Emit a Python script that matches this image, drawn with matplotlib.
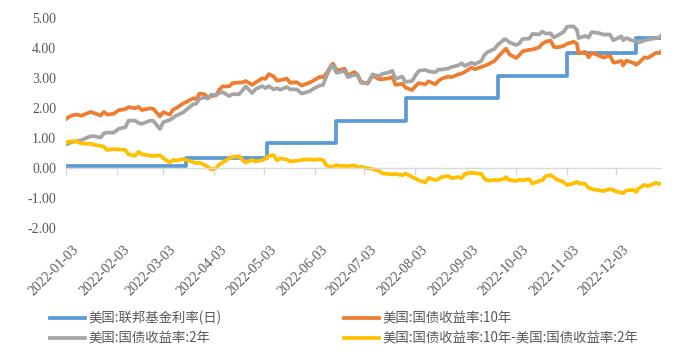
import pandas as pd
import matplotlib
matplotlib.use("Agg")
import matplotlib.pyplot as plt
import matplotlib.dates as mdates
from matplotlib.ticker import FormatStrFormatter
from matplotlib.transforms import ScaledTranslation

# --- data ---
fed_dates = ["2022-01-03", "2022-03-17", "2022-05-05", "2022-06-16", "2022-07-28",
             "2022-09-22", "2022-11-03", "2022-12-15", "2022-12-30"]
fed_rate = [0.08, 0.33, 0.83, 1.58, 2.33, 3.08, 3.83, 4.33, 4.33]

yield_dates = [
    "2022-01-03", "2022-01-05", "2022-01-07", "2022-01-10", "2022-01-12", "2022-01-14",
    "2022-01-18", "2022-01-20", "2022-01-24", "2022-01-26", "2022-01-28", "2022-02-01",
    "2022-02-04", "2022-02-08", "2022-02-10", "2022-02-14", "2022-02-16", "2022-02-18",
    "2022-02-23", "2022-02-25", "2022-03-01", "2022-03-03", "2022-03-07", "2022-03-09",
    "2022-03-11", "2022-03-15", "2022-03-17", "2022-03-21", "2022-03-23", "2022-03-25",
    "2022-03-28", "2022-03-30", "2022-04-01", "2022-04-04", "2022-04-06", "2022-04-08",
    "2022-04-12", "2022-04-14", "2022-04-18", "2022-04-20", "2022-04-22", "2022-04-26",
    "2022-04-28", "2022-05-02", "2022-05-04", "2022-05-06", "2022-05-09", "2022-05-11",
    "2022-05-13", "2022-05-17", "2022-05-19", "2022-05-23", "2022-05-26", "2022-05-31",
    "2022-06-02", "2022-06-06", "2022-06-08", "2022-06-10", "2022-06-13", "2022-06-14",
    "2022-06-16", "2022-06-17", "2022-06-21", "2022-06-23", "2022-06-27", "2022-06-29",
    "2022-07-01", "2022-07-05", "2022-07-07", "2022-07-08", "2022-07-12", "2022-07-14",
    "2022-07-18", "2022-07-20", "2022-07-22", "2022-07-26", "2022-07-28", "2022-08-01",
    "2022-08-03", "2022-08-05", "2022-08-09", "2022-08-11", "2022-08-15", "2022-08-17",
    "2022-08-19", "2022-08-23", "2022-08-25", "2022-08-29", "2022-08-31", "2022-09-02",
    "2022-09-06", "2022-09-08", "2022-09-12", "2022-09-14", "2022-09-16", "2022-09-20",
    "2022-09-22", "2022-09-26", "2022-09-27", "2022-09-29", "2022-10-03", "2022-10-05",
    "2022-10-07", "2022-10-11", "2022-10-13", "2022-10-17", "2022-10-19", "2022-10-21",
    "2022-10-24", "2022-10-26", "2022-10-28", "2022-11-01", "2022-11-03", "2022-11-07",
    "2022-11-09", "2022-11-10", "2022-11-14", "2022-11-16", "2022-11-18", "2022-11-22",
    "2022-11-25", "2022-11-29", "2022-12-01", "2022-12-02", "2022-12-06", "2022-12-07",
    "2022-12-09", "2022-12-13", "2022-12-15", "2022-12-16", "2022-12-20", "2022-12-22",
    "2022-12-27", "2022-12-29", "2022-12-30",
]

ust_10y = [
    1.63, 1.71, 1.76, 1.78, 1.74, 1.78, 1.87, 1.83, 1.75, 1.87, 1.78, 1.81,
    1.93, 1.96, 2.03, 1.99, 2.04, 1.93, 1.99, 1.97, 1.72, 1.86, 1.78, 1.95,
    2.00, 2.15, 2.20, 2.32, 2.30, 2.48, 2.46, 2.35, 2.39, 2.42, 2.61, 2.72,
    2.72, 2.83, 2.85, 2.85, 2.90, 2.77, 2.85, 2.99, 2.97, 3.13, 3.05, 2.91,
    2.93, 2.98, 2.84, 2.86, 2.75, 2.85, 2.91, 3.04, 3.03, 3.15, 3.43, 3.48,
    3.28, 3.25, 3.31, 3.09, 3.20, 3.10, 2.88, 2.81, 3.00, 3.08, 2.96, 2.96,
    2.99, 3.03, 2.77, 2.81, 2.68, 2.60, 2.73, 2.83, 2.79, 2.89, 2.79, 2.90,
    2.98, 3.05, 3.03, 3.12, 3.15, 3.20, 3.35, 3.29, 3.37, 3.41, 3.45, 3.57,
    3.70, 3.93, 3.98, 3.79, 3.67, 3.76, 3.89, 3.94, 3.95, 4.02, 4.14, 4.21,
    4.25, 4.04, 4.02, 4.07, 4.14, 4.21, 4.14, 3.82, 3.87, 3.69, 3.83, 3.76,
    3.68, 3.75, 3.53, 3.51, 3.57, 3.42, 3.58, 3.51, 3.44, 3.48, 3.69, 3.67,
    3.84, 3.83, 3.88,
]

ust_2y = [
    0.78, 0.83, 0.87, 0.90, 0.92, 0.97, 1.06, 1.06, 1.01, 1.16, 1.18, 1.18,
    1.31, 1.36, 1.58, 1.58, 1.50, 1.47, 1.58, 1.57, 1.30, 1.53, 1.60, 1.68,
    1.75, 1.85, 1.94, 2.12, 2.14, 2.30, 2.36, 2.31, 2.44, 2.43, 2.50, 2.53,
    2.40, 2.46, 2.46, 2.58, 2.72, 2.50, 2.63, 2.73, 2.66, 2.73, 2.62, 2.66,
    2.61, 2.70, 2.62, 2.62, 2.48, 2.56, 2.64, 2.75, 2.77, 3.06, 3.40, 3.43,
    3.18, 3.18, 3.24, 3.03, 3.11, 3.08, 2.84, 2.82, 3.02, 3.12, 3.06, 3.14,
    3.19, 3.24, 2.97, 3.05, 2.87, 2.90, 3.08, 3.24, 3.27, 3.22, 3.19, 3.28,
    3.28, 3.32, 3.37, 3.42, 3.49, 3.40, 3.51, 3.46, 3.57, 3.78, 3.87, 3.97,
    4.11, 4.29, 4.28, 4.19, 4.10, 4.15, 4.30, 4.31, 4.47, 4.45, 4.55, 4.48,
    4.49, 4.35, 4.41, 4.54, 4.71, 4.72, 4.60, 4.33, 4.40, 4.35, 4.53, 4.50,
    4.45, 4.45, 4.26, 4.28, 4.39, 4.26, 4.33, 4.24, 4.24, 4.18, 4.25, 4.28,
    4.33, 4.36, 4.41,
]

spread_10y_2y = [
    0.85, 0.88, 0.89, 0.88, 0.82, 0.81, 0.81, 0.77, 0.74, 0.71, 0.60, 0.63,
    0.62, 0.60, 0.45, 0.41, 0.54, 0.46, 0.41, 0.40, 0.42, 0.33, 0.18, 0.27,
    0.25, 0.30, 0.26, 0.20, 0.16, 0.18, 0.10, 0.04, -0.05, -0.01, 0.11, 0.19,
    0.32, 0.37, 0.39, 0.27, 0.18, 0.27, 0.22, 0.26, 0.31, 0.40, 0.43, 0.25,
    0.32, 0.28, 0.22, 0.24, 0.27, 0.29, 0.27, 0.29, 0.26, 0.09, 0.03, 0.05,
    0.10, 0.07, 0.07, 0.06, 0.09, 0.02, 0.04, -0.01, -0.02, -0.04, -0.10, -0.18,
    -0.20, -0.21, -0.20, -0.24, -0.19, -0.30, -0.35, -0.41, -0.48, -0.33, -0.40, -0.38,
    -0.30, -0.27, -0.34, -0.30, -0.34, -0.20, -0.16, -0.17, -0.20, -0.37, -0.42, -0.40,
    -0.41, -0.36, -0.30, -0.40, -0.43, -0.39, -0.41, -0.37, -0.52, -0.43, -0.41, -0.27,
    -0.24, -0.31, -0.39, -0.47, -0.57, -0.51, -0.46, -0.51, -0.53, -0.66, -0.70, -0.74,
    -0.77, -0.70, -0.73, -0.77, -0.82, -0.84, -0.75, -0.73, -0.80, -0.70, -0.56, -0.61,
    -0.49, -0.53, -0.53,
]

tick_dates = ["2022-01-03", "2022-02-03", "2022-03-03", "2022-04-03", "2022-05-03", "2022-06-03",
              "2022-07-03", "2022-08-03", "2022-09-03", "2022-10-03", "2022-11-03", "2022-12-03"]

labels = ["美国:联邦基金利率(日)", "美国:国债收益率:10年",
          "美国:国债收益率:2年", "美国:国债收益率:10年-美国:国债收益率:2年"]
colors = ["#5B9BD5", "#ED7D31", "#A5A5A5", "#FFC000"]

text_grey = "#595959"
axis_grey = "#D9D9D9"

fed_x = pd.to_datetime(fed_dates)
yx = pd.to_datetime(yield_dates)
ticks = mdates.date2num(pd.to_datetime(tick_dates))

fig = plt.figure(figsize=(6.82, 3.6), dpi=100)
ax = fig.add_axes([66 / 682, 1 - 228 / 360, 595 / 682, 210 / 360])

lw = 2.7
h_fed, = ax.plot(fed_x, fed_rate, drawstyle="steps-post", color=colors[0], lw=lw, label=labels[0])
h_10, = ax.plot(yx, ust_10y, color=colors[1], lw=lw, label=labels[1])
h_2, = ax.plot(yx, ust_2y, color=colors[2], lw=lw, label=labels[2])
h_sp, = ax.plot(yx, spread_10y_2y, color=colors[3], lw=lw, label=labels[3])

ax.set_xlim(pd.Timestamp("2022-01-03"), pd.Timestamp("2022-12-30"))
ax.set_ylim(-2, 5)
ax.set_yticks(range(-2, 6))
ax.yaxis.set_major_formatter(FormatStrFormatter("%.2f"))
ax.tick_params(axis="y", length=0, pad=7, labelsize=10, labelcolor=text_grey)
for lab in ax.get_yticklabels():
    lab.set_family("Liberation Serif")

# zero line with the month tick marks
for side in ["left", "right", "top"]:
    ax.spines[side].set_visible(False)
ax.spines["bottom"].set_position(("data", 0))
ax.spines["bottom"].set_color(axis_grey)
ax.spines["bottom"].set_linewidth(1.0)
ax.set_xticks(ticks)
ax.tick_params(axis="x", direction="out", length=5, width=1.0, color=axis_grey, labelbottom=False)

# date labels below the plot area
sec = ax.secondary_xaxis("bottom")
sec.spines["bottom"].set_visible(False)
sec.set_xticks(ticks)
sec.xaxis.set_major_formatter(mdates.DateFormatter("%Y-%m-%d"))
sec.tick_params(axis="x", length=0, pad=11, labelsize=10, labelcolor=text_grey)
shift = ScaledTranslation(6 / 100, 0, fig.dpi_scale_trans)
for lab in sec.get_xticklabels():
    lab.set_family("Liberation Serif")
    lab.set_rotation(45)
    lab.set_ha("right")
    lab.set_va("top")
    lab.set_rotation_mode("anchor")
    lab.set_transform(lab.get_transform() + shift)

fig.legend(handles=[h_fed, h_2, h_10, h_sp], ncol=2, loc="upper center",
           bbox_to_anchor=(0.5 + 3 / 682, 1 - 299 / 360), frameon=False,
           prop={"family": ["Noto Sans CJK SC", "DejaVu Sans"], "size": 9.65},
           labelcolor=text_grey, handlelength=2.65, handletextpad=0.25,
           columnspacing=9.1, labelspacing=0.47)

fig.savefig("out.png", dpi=100)
